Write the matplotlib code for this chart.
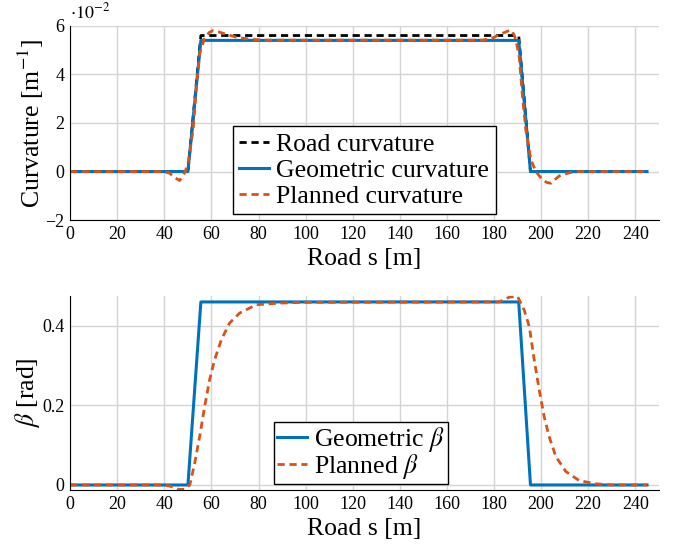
import matplotlib
matplotlib.use('Agg')
import matplotlib.pyplot as plt
from matplotlib.ticker import FuncFormatter

plt.rcParams['font.family'] = ['Liberation Serif', 'DejaVu Serif']
plt.rcParams['mathtext.fontset'] = 'stix'

blue = '#0072BD'
orange = '#D95319'

# road / geometric curvature [1/m]
s_geo = [0, 50, 55.5, 190.5, 195.5, 245]
road_curv = [0, 0, 0.056, 0.056, 0, 0]
geo_curv = [0, 0, 0.054, 0.054, 0, 0]

# planned curvature [1/m]
s_plan_curv = [0, 38, 42, 44.5, 46.5, 48.6, 50, 52.2, 53.6, 55, 57.1, 59, 60.6, 63, 65.6,
               70.6, 76.2, 82, 175, 179, 182.2, 185, 187.2, 188.4, 189.3, 190.7, 192.1,
               193.5, 195.7, 197.8, 200.6, 202.5, 204.2, 206, 207.7, 211.9, 216, 245]
plan_curv = [0, 0, -0.0005, -0.0025, -0.0037, -0.0005, 0.003, 0.0172, 0.035, 0.0487,
             0.0549, 0.0572, 0.058, 0.0575, 0.0567, 0.0553, 0.0545, 0.0541, 0.0541, 0.0548,
             0.0563, 0.0575, 0.0583, 0.0565, 0.0542, 0.0473, 0.0309, 0.0172, 0.0048, 0,
             -0.0034, -0.0045, -0.0048, -0.0032, -0.0018, -0.0005, 0, 0]

# geometric / planned beta [rad]
geo_beta = [0, 0, 0.46, 0.46, 0, 0]
s_plan_beta = [0, 40, 43, 46, 48.5, 50.8, 52.9, 55, 57.1, 59.2, 61.3, 64.2, 67.7, 72, 79,
               88.9, 98.8, 182.2, 186.5, 190, 192.8, 195, 197.1, 199.2, 201.3, 203.4,
               206.3, 210.5, 216.2, 223.2, 230, 245]
plan_beta = [0, 0, -0.004, -0.011, -0.011, 0, 0.055, 0.122, 0.197, 0.264, 0.314, 0.365,
             0.407, 0.432, 0.453, 0.457, 0.459, 0.46, 0.472, 0.474, 0.44, 0.398, 0.314,
             0.239, 0.172, 0.122, 0.071, 0.034, 0.011, 0.003, 0, 0]

xticks = list(range(0, 241, 20))

fig = plt.figure(figsize=(6.75, 5.49), dpi=100)
ax1 = fig.add_axes([0.104, 0.599, 0.872, 0.354])
ax2 = fig.add_axes([0.104, 0.1075, 0.872, 0.3534])

dash = (0, (2.6, 1.7))
leg_kw = dict(loc='lower left', borderaxespad=0, fontsize=18.5, fancybox=False,
              framealpha=1, edgecolor='black', handlelength=1.15, handletextpad=0.3)

ax1.plot(s_geo, road_curv, color='black', lw=2.0, linestyle=dash, label='Road curvature')
ax1.plot(s_geo, geo_curv, color=blue, lw=2.2, label='Geometric curvature')
ax1.plot(s_plan_curv, plan_curv, color=orange, lw=2.0, linestyle=dash, label='Planned curvature')
ax1.set_ylim(-0.02, 0.06)
ax1.set_yticks([-0.02, 0, 0.02, 0.04, 0.06])
ax1.yaxis.set_major_formatter(FuncFormatter(lambda v, p: f'{v * 100:.0f}'.replace('-', '\u2212')))
ax1.text(0.0, 1.02, r'$\cdot 10^{-2}$', transform=ax1.transAxes, fontsize=13, va='bottom', ha='left')
ax1.set_ylabel(r'Curvature [m$^{\mathrm{-1}}$]', fontsize=18.5, labelpad=0)
ax1.legend(bbox_to_anchor=(0.276, 0.031), borderpad=0.25, labelspacing=0.12, **leg_kw)

ax2.plot(s_geo, geo_beta, color=blue, lw=2.2, label=r'Geometric $\beta$')
ax2.plot(s_plan_beta, plan_beta, color=orange, lw=2.0, linestyle=dash, label=r'Planned $\beta$')
ax2.set_ylim(-0.0126, 0.475)
ax2.set_yticks([0, 0.2, 0.4])
ax2.set_yticklabels(['0', '0.2', '0.4'])
ax2.set_ylabel(r'$\beta$ [rad]', fontsize=18.5, labelpad=0)
ax2.legend(bbox_to_anchor=(0.3465, 0.031), borderpad=0.12, labelspacing=-0.1, **leg_kw)

for ax in (ax1, ax2):
    ax.set_xlim(0, 250)
    ax.set_xticks(xticks)
    ax.set_xlabel('Road s [m]', fontsize=18.5)
    ax.grid(True, color='#d4d4d4', lw=1.0)
    ax.set_axisbelow(True)
    ax.spines['top'].set_visible(False)
    ax.spines['right'].set_visible(False)
    ax.tick_params(length=0, labelsize=13, pad=4)

fig.savefig('out.png', dpi=100)
